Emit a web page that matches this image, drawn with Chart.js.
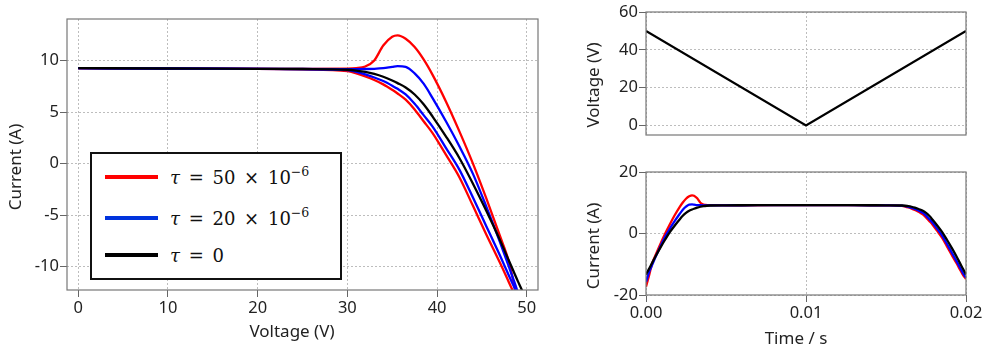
<!DOCTYPE html>
<html>
<head>
<meta charset="utf-8">
<script src="https://cdn.jsdelivr.net/npm/chart.js@4.4.1/dist/chart.umd.min.js"></script>
<style>
    body { margin: 0; background: #fff; }
    #wrap { position: relative; width: 996px; height: 352px; overflow: hidden; }
    canvas { position: absolute; }
    #ivChart { left: 0; top: 0; }
    #voltChart { left: 560px; top: 0; }
    #curChart { left: 560px; top: 150px; }
    .title {
        position: absolute; width: 160px; height: 24px; line-height: 24px; margin: -12px 0 0 -80px;
        text-align: center; font-family: "Noto Sans", sans-serif; font-size: 17px; color: #222;
        white-space: nowrap;
    }
    .title.rot { transform: rotate(-90deg); }
    .legend {
        position: absolute; left: 90px; top: 152px; width: 248px; height: 124px;
        border: 2px solid #111; background: #fff;
        font-family: "DejaVu Serif", serif; font-size: 18px; color: #111;
    }
    .row { position: absolute; left: 13px; height: 24px; display: flex; align-items: center; }
    .swatch { width: 53px; height: 4px; }
    .label { margin-left: 12px; white-space: pre; word-spacing: 3px; }
    .label sup { font-size: 12.5px; vertical-align: 0; position: relative; top: -8px; }
</style>
</head>
<body>
<div id="wrap">
    <canvas id="ivChart" width="560" height="352"></canvas>
    <canvas id="voltChart" width="436" height="150"></canvas>
    <canvas id="curChart" width="436" height="202"></canvas>

    <div class="title rot" style="left:15px; top:167px">Current (A)</div>
    <div class="title" style="left:292px; top:331px">Voltage (V)</div>
    <div class="title rot" style="left:593px; top:85px">Voltage (V)</div>
    <div class="title rot" style="left:593px; top:246px">Current (A)</div>
    <div class="title" style="left:796px; top:338px">Time / s</div>

    <div class="legend">
        <div class="row" style="top:11px"><span class="swatch" style="background:#ff0000"></span><span class="label"><i>τ</i> = 50 × 10<sup>−6</sup></span></div>
        <div class="row" style="top:52px"><span class="swatch" style="background:#0033dd"></span><span class="label"><i>τ</i> = 20 × 10<sup>−6</sup></span></div>
        <div class="row" style="top:89px"><span class="swatch" style="background:#000"></span><span class="label"><i>τ</i> = 0</span></div>
    </div>
</div>
<script>
// --- voltage grid (V) shared by every branch ---
const voltage = [0, 10, 20, 25, 30, 31, 32, 33, 34, 35, 35.6, 36.5, 37.5, 38.5, 39.5, 41, 42.5, 44, 45.5, 47, 48, 48.5, 49, 49.5, 50];
// time of each grid voltage on the falling sweep (50 -> 0 V) and the rising one (0 -> 50 V)
const timeDown = [0.01, 0.008, 0.006, 0.005, 0.004, 0.0038, 0.0036, 0.0034, 0.0032, 0.003, 0.00288, 0.0027, 0.0025, 0.0023, 0.0021, 0.0018, 0.0015, 0.0012, 0.0009, 0.0006, 0.0004, 0.0003, 0.0002, 0.0001, 0];
const timeUp = [0.01, 0.012, 0.014, 0.015, 0.016, 0.0162, 0.0164, 0.0166, 0.0168, 0.017, 0.01712, 0.0173, 0.0175, 0.0177, 0.0179, 0.0182, 0.0185, 0.0188, 0.0191, 0.0194, 0.0196, 0.0197, 0.0198, 0.0199, 0.02];

// --- currents (A) ---
const red50Down = [9.26, 9.22, 9.19, 9.18, 9.2, 9.25, 9.42, 10.0, 11.45, 12.3, 12.43, 12.1, 11.3, 10.1, 8.6, 6.0, 3.1, 0.0, -3.4, -7.0, -9.5, -11.4, -13.5, -15.4, -17.3];
const red50Up = [9.26, 9.22, 9.18, 9.13, 8.97, 8.75, 8.45, 8.1, 7.68, 7.15, 6.8, 6.2, 5.25, 4.1, 2.95, 0.84, -1.35, -4.1, -6.9, -9.6, -11.5, -12.45, -13.4, -14.1, -14.8];
const blue20Down = [9.26, 9.22, 9.19, 9.17, 9.16, 9.16, 9.17, 9.19, 9.25, 9.38, 9.45, 9.38, 8.75, 7.75, 6.35, 4.08, 1.65, -1.0, -4.2, -7.6, -10.0, -11.2, -12.5, -14.1, -15.7];
const blue20Up = [9.26, 9.22, 9.19, 9.15, 9.06, 8.9, 8.65, 8.35, 8.0, 7.55, 7.25, 6.7, 5.8, 4.7, 3.59, 1.5, -0.61, -3.3, -6.1, -8.9, -10.85, -11.8, -12.75, -13.6, -14.4];
const black0 = [9.26, 9.22, 9.19, 9.17, 9.1, 9.02, 8.9, 8.7, 8.42, 8.05, 7.8, 7.38, 6.7, 5.75, 4.56, 2.62, 0.52, -1.95, -4.6, -7.4, -9.4, -10.4, -11.4, -12.35, -13.4];

// --- triangular voltage sweep ---
const sweepTime = [0, 0.01, 0.02];
const sweepVoltage = [50, 0, 50];

// --- tick labels ---
const ivXTicks = [0, 10, 20, 30, 40, 50];
const ivYTicks = [-10, -5, 0, 5, 10];
const timeTicks = [0, 0.01, 0.02];
const voltYTicks = [0, 20, 40, 60];
const curYTicks = [-20, 0, 20];

const RED = '#ff0000', BLUE = '#0000ff', BLACK = '#000000';

Chart.defaults.font.family = '"Noto Sans", sans-serif';
Chart.defaults.font.size = 16.5;
Chart.defaults.color = '#222';

const pts = (xs, ys) => xs.map((x, i) => ({ x: x, y: ys[i] }));

const line = (data, color, smooth = true) => ({
    data: data,
    borderColor: color,
    borderWidth: 2.3,
    pointRadius: 0,
    showLine: true,
    tension: 0,
    cubicInterpolationMode: smooth ? 'monotone' : 'default',
    clip: 0
});

// grey frame around the plot area
const frame = {
    id: 'frame',
    afterDatasetsDraw(chart) {
        const { ctx, chartArea: a } = chart;
        ctx.save();
        ctx.strokeStyle = '#777';
        ctx.lineWidth = 1.2;
        ctx.strokeRect(a.left, a.top, a.right - a.left, a.bottom - a.top);
        ctx.restore();
    }
};

const axis = (min, max, ticks, extra) => Object.assign({
    type: 'linear',
    min: min,
    max: max,
    afterBuildTicks: s => { s.ticks = ticks.map(v => ({ value: v })); },
    grid: { color: '#bdbdbd', lineWidth: 1, tickLength: 7, tickColor: '#666', tickWidth: 1 },
    border: { display: false, dash: [2, 2] },
    ticks: { padding: 1, callback: v => String(v) }
}, extra);

const baseOptions = {
    responsive: false,
    animation: false,
    plugins: { legend: { display: false }, tooltip: { enabled: false } }
};

// --- I-V curves ---
new Chart(document.getElementById('ivChart'), {
    type: 'scatter',
    data: {
        datasets: [
            line(pts(voltage, black0), BLACK),
            line(pts(voltage, blue20Down), BLUE),
            line(pts(voltage, blue20Up), BLUE),
            line(pts(voltage, red50Down), RED),
            line(pts(voltage, red50Up), RED)
        ]
    },
    options: Object.assign({}, baseOptions, {
        layout: { padding: { left: 7, top: 19, right: 22, bottom: 0 } },
        scales: {
            x: axis(-1.25, 51.25, ivXTicks, { afterFit: s => { s.height = 62; } }),
            y: axis(-12.26, 14.02, ivYTicks, { afterFit: s => { s.width = 60; } })
        }
    }),
    plugins: [frame]
});

// --- voltage vs time ---
new Chart(document.getElementById('voltChart'), {
    type: 'scatter',
    data: { datasets: [line(pts(sweepTime, sweepVoltage), BLACK, false)] },
    options: Object.assign({}, baseOptions, {
        layout: { padding: { left: 23, top: 12, right: 30, bottom: 0 } },
        scales: {
            x: axis(0, 0.02, timeTicks, {
                afterFit: s => { s.height = 15; },
                ticks: { display: false },
                grid: { color: '#bdbdbd', drawTicks: false }
            }),
            y: axis(-5, 60, voltYTicks, { afterFit: s => { s.width = 63; } })
        }
    }),
    plugins: [frame]
});

// --- current vs time ---
new Chart(document.getElementById('curChart'), {
    type: 'scatter',
    data: {
        datasets: [
            line(pts(timeDown, black0), BLACK),
            line(pts(timeUp, black0), BLACK),
            line(pts(timeDown, blue20Down), BLUE),
            line(pts(timeUp, blue20Up), BLUE),
            line(pts(timeDown, red50Down), RED),
            line(pts(timeUp, red50Up), RED)
        ]
    },
    options: Object.assign({}, baseOptions, {
        layout: { padding: { left: 23, top: 22, right: 30, bottom: 0 } },
        scales: {
            x: axis(0, 0.02, timeTicks, {
                afterFit: s => { s.height = 57; },
                ticks: { padding: 1, callback: v => v.toFixed(2) }
            }),
            y: axis(-20, 20, curYTicks, { afterFit: s => { s.width = 63; } })
        }
    }),
    plugins: [frame]
});
</script>
</body>
</html>
